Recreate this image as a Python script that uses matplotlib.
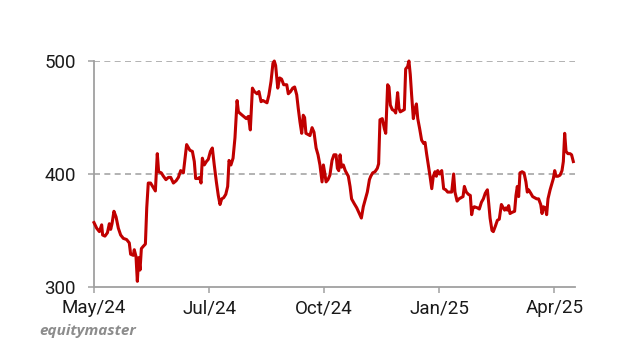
import matplotlib
matplotlib.use("Agg")
import matplotlib.pyplot as plt

# --- Data: trading-day index vs price ---
days = [0, 1.4, 2.8, 4.0, 4.5, 5.7, 7.0, 8.0, 8.7, 9.4, 10.4, 11.5, 12.7, 13.9, 15.3,
        17.0, 18.4, 19.1, 20.5, 21.0, 21.9, 22.6, 23.3, 24.0, 24.7, 25.7, 26.8, 27.5,
        28.3, 29.5, 30.9, 32.0, 33.0, 33.7, 35.1, 36.2, 37.5, 38.8, 40.0, 41.4, 42.8,
        44.0, 45.2, 46.6, 48.3,
        50.0, 51.3, 52.3, 53.0, 54.1, 55.1, 55.8, 56.5, 57.5, 58.6, 59.6, 60.7, 61.7,
        62.7, 63.8, 64.8, 65.7, 66.6, 67.6, 68.7, 69.7, 70.4, 71.4, 72.5, 73.5, 74.6,
        75.3, 76.6, 78.0, 79.4, 80.5, 81.5, 82.6, 83.6, 85.0, 86.0, 87.1, 88.1, 89.2,
        90.2, 91.2, 92.3, 93.3, 94.0, 94.7, 95.8, 96.8, 97.8, 98.9,
        100.5, 101.3, 102.5, 103.6, 104.6, 105.7, 106.5, 107.4, 108.3, 109.1, 109.8,
        110.5, 111.6, 112.6, 113.7, 114.7, 115.8, 116.8, 117.8, 118.9, 119.6, 120.3,
        121.0, 122.0, 123.0, 124.1, 125.1, 126.2, 126.9, 127.6, 128.3, 129.0, 130.0,
        131.0, 132.6, 133.5, 134.3, 135.6, 137.0, 138.3, 139.4, 140.4, 141.5, 142.5,
        143.6, 144.3, 145.3, 146.5, 147.7, 148.4,
        149.1, 150.3, 151.4, 152.1, 153.1, 153.8, 154.5, 155.5, 156.6, 157.3, 158.3,
        159.0, 159.7, 160.8, 161.8, 162.5, 163.5, 164.2, 164.9, 165.6, 166.5, 167.4,
        168.1, 168.8, 169.8, 170.8, 171.9, 172.6, 173.4, 174.3, 175.2, 176.1, 176.9,
        177.8, 178.5, 179.2, 180.2, 181.3, 182.3, 183.4, 184.4, 185.4, 186.5, 187.5,
        188.2, 189.3, 190.3, 191.4, 192.4, 193.1, 194.1, 195.2, 196.2, 196.9, 197.6,
        198.3,
        199.9, 200.9, 202.0, 203.0, 204.0, 205.1, 205.8, 206.5, 207.5, 208.2, 209.3,
        210.3, 211.3, 212.4, 213.1, 214.1, 214.8, 215.5, 216.2, 216.9, 217.9, 219.3,
        220.0, 220.7, 221.4, 222.1, 223.2, 224.2, 225.2, 225.9, 226.6, 227.7, 228.7,
        229.8, 230.8, 231.8, 232.9, 233.6, 234.3, 235.3, 236.0, 236.7, 237.8, 238.8,
        239.5, 240.2, 240.9, 241.9, 243.0, 244.0, 244.7, 245.4, 246.1, 247.1, 248.2,
        249.0, 249.9]

price = [357, 352, 349, 355, 346, 345, 348, 356, 351, 356, 367, 362, 352, 346, 343,
         342, 339, 329, 328, 333, 327, 305, 326, 315, 334, 336, 338, 370,
         392, 392, 388, 385, 418, 402, 401, 398, 395, 397, 397, 392, 394,
         397, 403, 401, 426,
         421, 420, 411, 396, 396, 397, 392, 414, 408, 411, 413, 420, 423,
         408, 393, 381, 373, 378, 379, 382, 389, 412, 408, 414, 432, 465,
         455, 453, 451, 449, 451, 439, 476, 473, 471, 473, 464, 465, 464,
         463, 470, 482, 498, 500, 496, 476, 485, 484, 479,
         479, 471, 473, 476, 477, 470, 458, 446, 436, 452, 450,
         436, 435, 434, 441, 437, 423, 417, 408, 393, 408, 401,
         393, 395, 399, 412, 417, 417, 405, 403, 417, 406, 408,
         403, 398, 389, 378, 374, 370, 365, 361, 371, 378, 384,
         395, 398, 401, 402, 405, 409,
         448, 449, 440, 436, 479, 477, 461, 457, 456, 454, 472,
         458, 455, 456, 457, 493, 495, 500, 488, 470, 449, 458,
         462, 449, 440, 430, 427, 428, 418, 408, 398, 387, 398,
         402, 398, 403, 400, 403, 387, 386, 384, 384, 384, 400,
         384, 376, 378, 379, 380, 389, 384, 382, 381, 364, 370,
         371,
         370, 369, 375, 378, 383, 386, 374, 361, 350, 349, 354,
         359, 360, 373, 371, 368, 370, 368, 372, 365, 366, 367,
         381, 389, 380, 401, 402, 401, 393, 384, 386, 383, 380,
         379, 378, 378, 373, 365, 371, 370, 364, 378, 386, 392,
         396, 403, 398, 398, 399, 403, 411, 436, 420, 418, 418,
         417, 411]

tick_days = [0, 60, 120, 180, 240]
tick_labels = ["May/24", "Jul/24", "Oct/24", "Jan/25", "Apr/25"]
y_ticks = [300, 400, 500]

# --- Plot ---
plt.rcParams["font.family"] = ["Roboto", "DejaVu Sans"]

fig = plt.figure(figsize=(6.2, 3.49), dpi=100)
ax = fig.add_axes([0.1516, 0.1777, 0.7765, 0.6475])

for yv in y_ticks[1:]:
    ax.axhline(yv, color="#a6a6a6", lw=1.2, ls=(0, (3.6, 2.6)), zorder=1)

ax.plot(days, price, color="#c00000", lw=2.2, solid_joinstyle="round",
        clip_on=False, zorder=3)

ax.set_xlim(0, 251)
ax.set_ylim(300, 500)
ax.set_xticks(tick_days)
ax.set_xticklabels(tick_labels)
ax.set_yticks(y_ticks)

for s in ["top", "right"]:
    ax.spines[s].set_visible(False)
for s in ["left", "bottom"]:
    ax.spines[s].set_color("#a0a0a0")
    ax.spines[s].set_linewidth(1.3)

ax.tick_params(axis="x", length=4, width=1.1, color="#a0a0a0", pad=5,
               labelsize=13.5, labelcolor="#1a1a1a")
ax.tick_params(axis="y", length=4, width=1.1, color="#a0a0a0", pad=9,
               labelsize=13.5, labelcolor="#1a1a1a")

fig.text(0.064, 0.04, "equitymaster", fontsize=11, fontweight="bold",
         fontstyle="italic", color="#8c8c8c", family=["Open Sans", "DejaVu Sans"])

fig.savefig("out.png", dpi=100)
